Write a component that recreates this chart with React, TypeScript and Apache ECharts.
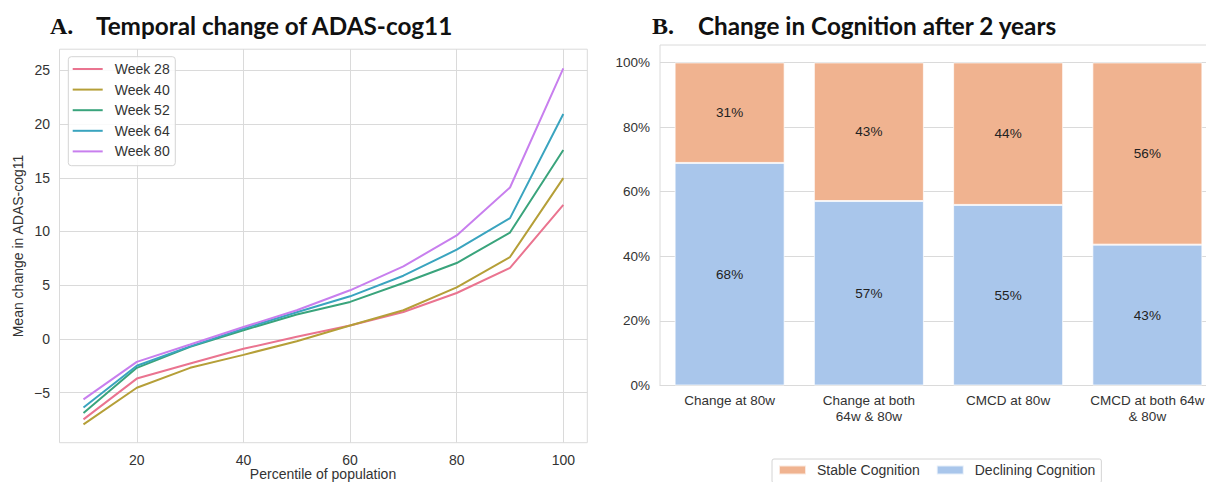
import React, { useEffect, useRef } from 'react';
import * as echarts from 'echarts';

const percentiles = [10, 20, 30, 40, 50, 60, 70, 80, 90, 100];
const week28 = [-7.5, -3.7, -2.3, -0.93, 0.19, 1.24, 2.5, 4.27, 6.6, 12.48];
const week40 = [-7.97, -4.55, -2.7, -1.49, -0.22, 1.24, 2.66, 4.8, 7.62, 14.96];
const week52 = [-6.9, -2.7, -0.75, 0.8, 2.26, 3.44, 5.2, 7.06, 9.9, 17.59];
const week64 = [-6.4, -2.5, -0.7, 0.95, 2.47, 3.96, 5.88, 8.3, 11.24, 20.94];
const week80 = [-5.64, -2.14, -0.53, 1.1, 2.66, 4.52, 6.75, 9.63, 14.09, 25.18];
const weekNames = ['Week 28', 'Week 40', 'Week 52', 'Week 64', 'Week 80'];
const weekSeries = [week28, week40, week52, week64, week80];
const xTicks = [20, 40, 60, 80, 100];
const yTicks = [-5, 0, 5, 10, 15, 20, 25];

const groups = ['Change at 80w', 'Change at both\n64w & 80w', 'CMCD at 80w', 'CMCD at both 64w\n& 80w'];
const declining = [68.9, 57.1, 55.9, 43.6];
const stable = [31.1, 42.9, 44.1, 56.4];
const decliningLabels = ['68%', '57%', '55%', '43%'];
const stableLabels = ['31%', '43%', '44%', '56%'];
const pctTicks = [0, 20, 40, 60, 80, 100];

const lineColors = ['#ea7490', '#b59f38', '#3aa47c', '#3aa4bf', '#c87fee'];
const FONT = '"Liberation Sans", Arial, sans-serif';
const GRID = '#dadada';
const TXT = '#333333';
const CW = 1240;

export default function App() {
  const ref = useRef<HTMLDivElement>(null);
  useEffect(() => {
    const chart = echarts.init(ref.current!, null, { renderer: 'svg' });
    const fmtNeg = (v: number) => (v < 0 ? '\u2212' + Math.abs(v) : String(v));
    const option: any = {
      animation: false,
      backgroundColor: '#ffffff',
      textStyle: { fontFamily: FONT },
      grid: [
        { left: 59.5, top: 49.2, width: 527.8, height: 393.5, show: true, borderColor: GRID, borderWidth: 1, backgroundColor: '#fff' },
        { left: 660, top: 45, width: 557, height: 340.5, show: true, borderColor: GRID, borderWidth: 1, backgroundColor: '#fff' },
      ],
      xAxis: [
        {
          type: 'value', gridIndex: 0, min: 5.5, max: 104.5,
          axisLine: { show: false }, axisTick: { show: false, customValues: xTicks },
          axisLabel: { customValues: xTicks, fontSize: 14, color: TXT, margin: 10, fontFamily: FONT },
          splitLine: { show: true, lineStyle: { color: GRID, width: 1 } },
        },
        {
          type: 'category', gridIndex: 1, data: groups,
          axisLine: { show: true, lineStyle: { color: GRID } }, axisTick: { show: false },
          axisLabel: { fontSize: 13.5, color: TXT, lineHeight: 16, margin: 7, fontFamily: FONT, interval: 0 },
          splitLine: { show: false },
        },
      ],
      yAxis: [
        {
          type: 'value', gridIndex: 0, min: -9.67, max: 26.97,
          axisLine: { show: false }, axisTick: { show: false, customValues: yTicks },
          axisLabel: { customValues: yTicks, fontSize: 14, color: TXT, margin: 9.5, formatter: fmtNeg, fontFamily: FONT },
          splitLine: { show: true, lineStyle: { color: GRID, width: 1 } },
        },
        {
          type: 'value', gridIndex: 1, min: 0, max: 105.4,
          axisLine: { show: false }, axisTick: { show: false, customValues: pctTicks },
          axisLabel: { customValues: pctTicks, fontSize: 13.5, color: TXT, margin: 10, formatter: (v: number) => v + '%', fontFamily: FONT },
          splitLine: { show: true, lineStyle: { color: GRID, width: 1 } },
        },
      ],
      legend: [
        {
          data: weekNames, orient: 'vertical', left: 68.3, top: 56.7,
          icon: 'rect', itemWidth: 30, itemHeight: 2, itemGap: 6.6,
          padding: [5.3, 5.6, 7.3, 4.4],
          borderColor: '#d4d4d4', borderWidth: 1, borderRadius: 3, backgroundColor: 'rgba(255,255,255,0.85)',
          textStyle: { fontSize: 14, color: TXT, lineHeight: 14, padding: [0, 0, 0, 7], fontFamily: FONT },
        },
        {
          data: ['Stable Cognition', 'Declining Cognition'], orient: 'horizontal', left: 772, top: 459,
          icon: 'rect', itemWidth: 27, itemHeight: 9, itemGap: 16,
          padding: [4, 6, 6, 6],
          borderColor: '#d4d4d4', borderWidth: 1, borderRadius: 2, backgroundColor: '#fff',
          textStyle: { fontSize: 14, color: TXT, lineHeight: 14, padding: [0, 0, 0, 6], fontFamily: FONT },
        },
      ],
      series: [
        ...weekSeries.map((vals, i) => ({
          type: 'line', name: weekNames[i], xAxisIndex: 0, yAxisIndex: 0,
          data: percentiles.map((p, j) => [p, vals[j]]),
          symbol: 'none', color: lineColors[i],
          lineStyle: { width: 2, color: lineColors[i] },
        })),
        {
          type: 'bar', name: 'Declining Cognition', xAxisIndex: 1, yAxisIndex: 1, stack: 'cog',
          data: declining, barCategoryGap: '21%', color: '#a9c6eb',
          itemStyle: { color: '#a9c6eb', borderColor: 'rgba(255,255,255,0.7)', borderWidth: 1 },
          label: { show: true, position: 'inside', fontSize: 13.5, color: '#222', fontFamily: FONT, formatter: (p: any) => decliningLabels[p.dataIndex] },
        },
        {
          type: 'bar', name: 'Stable Cognition', xAxisIndex: 1, yAxisIndex: 1, stack: 'cog',
          data: stable, barCategoryGap: '21%', color: '#f0b390',
          itemStyle: { color: '#f0b390', borderColor: 'rgba(255,255,255,0.7)', borderWidth: 1 },
          label: { show: true, position: 'inside', fontSize: 13.5, color: '#222', fontFamily: FONT, formatter: (p: any) => stableLabels[p.dataIndex] },
        },
      ],
      graphic: [
        { type: 'text', x: 50, y: 26, style: { text: 'A.', fontFamily: '"Liberation Serif", "Times New Roman", serif', fontWeight: 'bold', fontSize: 24, fill: '#111', verticalAlign: 'middle' } },
        { type: 'text', x: 96, y: 25, style: { text: 'Temporal change of ADAS-cog11', fontFamily: 'Lato, sans-serif', fontWeight: 'bold', fontSize: 24.3, fill: '#111', verticalAlign: 'middle' } },
        { type: 'text', x: 652, y: 26, style: { text: 'B.', fontFamily: '"Liberation Serif", "Times New Roman", serif', fontWeight: 'bold', fontSize: 24, fill: '#111', verticalAlign: 'middle' } },
        { type: 'text', x: 698, y: 25, style: { text: 'Change in Cognition after 2 years', fontFamily: 'Lato, sans-serif', fontWeight: 'bold', fontSize: 24.3, fill: '#111', verticalAlign: 'middle' } },
        { type: 'text', x: 17.5, y: 246, rotation: Math.PI / 2, style: { text: 'Mean change in ADAS-cog11', fontFamily: FONT, fontSize: 14, fill: TXT, align: 'center', verticalAlign: 'middle' } },
        { type: 'text', x: 323, y: 474, style: { text: 'Percentile of population', fontFamily: FONT, fontSize: 14, fill: TXT, align: 'center', verticalAlign: 'middle' } },
      ],
    };
    chart.setOption(option);
    return () => chart.dispose();
  }, []);
  return (
    <div style={{ position: 'fixed', left: 0, top: 0, width: 1206, height: 482, overflow: 'hidden', background: '#fff' }}>
      <div ref={ref} style={{ position: 'absolute', left: 0, top: 0, width: CW, height: 482 }} />
    </div>
  );
}
